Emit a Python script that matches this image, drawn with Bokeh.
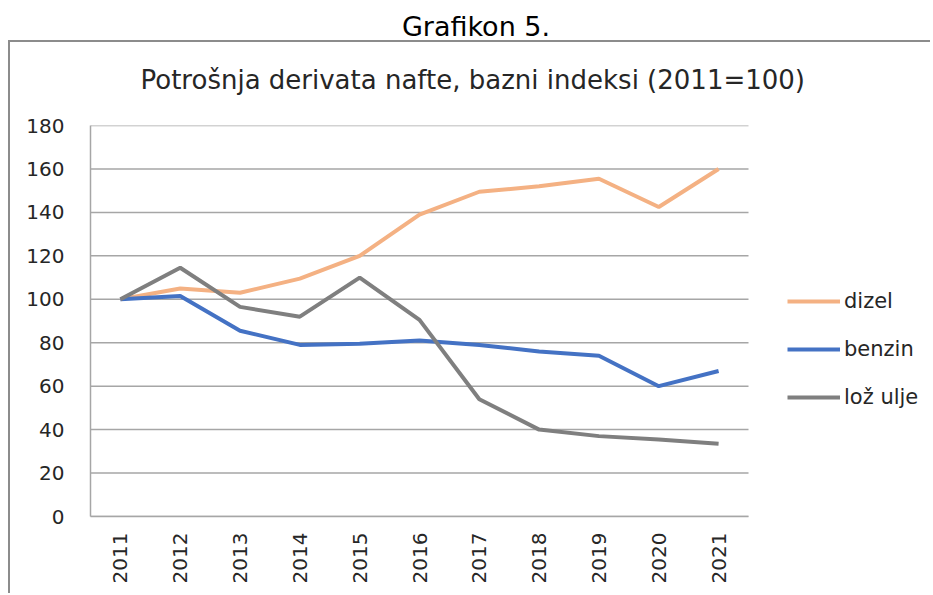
from bokeh.plotting import figure
from bokeh.models import Range1d, FixedTicker, Legend, LegendItem, Div
from bokeh.layouts import column
from bokeh.embed import file_html
from bokeh.resources import INLINE

years = [2011, 2012, 2013, 2014, 2015, 2016, 2017, 2018, 2019, 2020, 2021]
dizel = [100, 105, 103, 109.5, 120, 139, 149.5, 152, 155.5, 142.5, 160]
benzin = [100, 101.5, 85.5, 79, 79.5, 81, 79, 76, 74, 60, 67]
loz_ulje = [100, 114.5, 96.5, 92, 110, 90.5, 54, 40, 37, 35.5, 33.5]
y_ticks = [0, 20, 40, 60, 80, 100, 120, 140, 160, 180]

FONT = "DejaVu Sans"

# layout geometry (pixels)
FIG_W, FIG_H = 922, 553
LEFT, TOP, PLOT_W, PLOT_H = 80, 83, 658, 391

head = Div(text="Grafikon 5.", width=925, height=32, margin=(0, 0, 0, 0),
           styles={"font-family": FONT, "font-size": "27px", "color": "#000000",
                   "text-align": "center", "line-height": "26px", "padding-top": "6px",
                   "padding-left": "11px", "box-sizing": "border-box",
                   "height": "32px", "width": "925px"})

x_start = years[0] - 0.5
x_end_data = years[-1] + 0.5
px_per_year = PLOT_W / (x_end_data - x_start)
x_end = x_start + (FIG_W - LEFT) / px_per_year

p = figure(width=FIG_W, height=FIG_H, x_range=Range1d(x_start, x_end), y_range=Range1d(0, 180),
           toolbar_location=None, output_backend="svg",
           min_border_left=LEFT, min_border_right=0, min_border_top=TOP,
           min_border_bottom=FIG_H - TOP - PLOT_H,
           title="Potrošnja derivata nafte, bazni indeksi (2011=100)")
p.styles = {"border-left": "2px solid #8c8c8c", "border-top": "2px solid #8c8c8c"}
p.title.text_font = FONT
p.title.text_font_size = "26px"
p.title.text_font_style = "normal"
p.title.text_color = "#262626"
p.title.align = "left"
p.title.offset = 50
p.title.standoff = 36
p.title.padding = dict(left=0, right=0, top=0, bottom=13)

p.outline_line_color = None
p.xgrid.grid_line_color = None
p.ygrid.grid_line_color = None

# horizontal gridlines limited to the category area
p.segment(x0=[x_start] * len(y_ticks), x1=[x_end_data] * len(y_ticks),
          y0=y_ticks, y1=y_ticks, line_color="#a6a6a6", line_width=1.5)

p.xaxis.ticker = FixedTicker(ticks=years)
p.yaxis.ticker = FixedTicker(ticks=y_ticks)
p.xaxis.bounds = (x_start, x_end_data)

for ax in (p.xaxis[0], p.yaxis[0]):
    ax.axis_line_color = "#a6a6a6"
    ax.axis_line_width = 1.5
    ax.major_tick_line_color = None
    ax.minor_tick_line_color = None
    ax.major_label_text_font = FONT
    ax.major_label_text_font_size = "20px"
    ax.major_label_text_color = "#262626"

p.yaxis.major_label_standoff = 20
p.xaxis.major_label_orientation = 1.5708
p.xaxis.major_label_standoff = 10

r1 = p.line(years, dizel, line_color="#F4B183", line_width=4)
r2 = p.line(years, benzin, line_color="#4472C4", line_width=4)
r3 = p.line(years, loz_ulje, line_color="#7F7F7F", line_width=4)

legend = Legend(items=[LegendItem(label="dizel", renderers=[r1]),
                       LegendItem(label="benzin", renderers=[r2]),
                       LegendItem(label="lož ulje", renderers=[r3])],
                location=(697, 107))
legend.border_line_color = None
legend.background_fill_color = None
legend.background_fill_alpha = 0
legend.padding = 0
legend.margin = 0
legend.spacing = 24
legend.glyph_width = 53
legend.glyph_height = 24
legend.label_height = 24
legend.label_standoff = 4
legend.label_text_font = FONT
legend.label_text_font_size = "21px"
legend.label_text_color = "#262626"
p.add_layout(legend, "center")

layout = column(head, p)
layout.margin = (8, 0, 0, 8)
open("out.html", "w").write(file_html(layout, INLINE))
